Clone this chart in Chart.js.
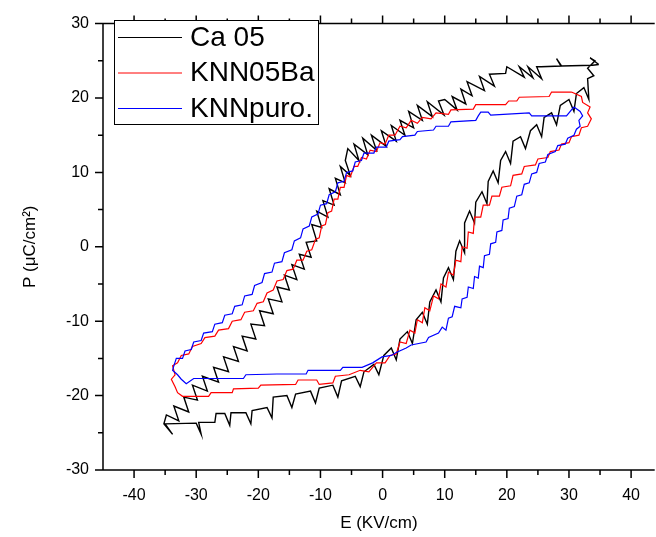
<!DOCTYPE html>
<html>
<head>
<meta charset="utf-8">
<script src="https://cdn.jsdelivr.net/npm/chart.js@4.4.0/dist/chart.umd.min.js"></script>
<style>
html, body { margin: 0; padding: 0; background: #fff; }
canvas { display: block; }
</style>
</head>
<body>
<canvas id="loopChart" width="656" height="537"></canvas>
<script>
// hysteresis loops, [E (kV/cm), P (uC/cm2)] pairs, noise included
const seriesNames = ["Ca 05", "KNN05Ba", "KNNpuro."];
const seriesColors = ["#000000", "#ff0000", "#0000ff"];

const caLoop = [
    [34.8, 24.5], [33.8, 24.4], [28.8, 24.3], [28.0, 25.3], [28.7, 24.3], [25.5, 24.2], [24.8, 24.2], [25.6, 22.6],
    [23.4, 24.2], [24.2, 22.7], [22.0, 24.2], [22.8, 22.8], [20.0, 24.2], [19.8, 23.3], [17.2, 23.2], [18.0, 21.6],
    [15.6, 22.9], [16.4, 21.0], [13.6, 22.2], [14.4, 20.3], [12.6, 21.2], [13.4, 19.2], [11.2, 20.2], [12.0, 18.4],
    [10.0, 19.8], [9.0, 19.6], [9.9, 17.7], [7.2, 19.5], [8.0, 17.5], [5.6, 19.0], [6.4, 17.0], [4.2, 18.2],
    [5.0, 16.0], [2.8, 17.0], [3.6, 15.0], [1.4, 16.3], [2.2, 14.2], [-0.2, 15.6], [0.6, 13.5], [-1.8, 15.0],
    [-1.0, 13.0], [-3.2, 14.6], [-2.4, 12.4], [-4.6, 13.8], [-3.8, 11.6], [-5.6, 13.2], [-6.0, 11.6], [-5.2, 9.6],
    [-6.8, 10.8], [-6.0, 8.6], [-7.6, 9.2], [-6.8, 7.0], [-8.6, 7.8], [-7.8, 5.6], [-9.6, 6.2], [-8.8, 4.0],
    [-10.6, 4.8], [-9.8, 2.6], [-11.4, 3.0], [-10.6, 0.8], [-12.3, 0.6], [-11.5, -1.4], [-13.4, -1.0], [-12.6, -3.0],
    [-14.6, -2.4], [-13.8, -4.4], [-15.8, -3.8], [-15.0, -5.8], [-17.0, -5.4], [-16.2, -7.4], [-18.4, -7.0], [-17.6, -9.0],
    [-19.8, -8.6], [-19.0, -10.6], [-21.2, -10.4], [-20.4, -12.4], [-22.6, -12.0], [-21.8, -14.0], [-24.0, -13.4], [-23.2, -15.4],
    [-25.6, -14.8], [-24.8, -16.8], [-27.2, -16.2], [-26.4, -18.2], [-29.0, -17.4], [-28.2, -19.4], [-30.6, -18.6], [-29.8, -20.6],
    [-32.0, -20.2], [-31.2, -22.2], [-33.6, -21.4], [-32.8, -23.4], [-34.8, -22.6], [-35.2, -23.8], [-33.8, -25.2], [-35.0, -23.8],
    [-30.0, -23.7], [-29.2, -25.2], [-29.6, -23.6], [-27.0, -23.6], [-26.8, -22.4], [-25.4, -22.4], [-24.6, -24.0], [-24.4, -22.3],
    [-22.0, -22.3], [-21.2, -23.8], [-21.0, -22.0], [-18.6, -21.6], [-17.8, -23.0], [-17.6, -20.2], [-15.4, -20.0], [-14.6, -21.6],
    [-14.0, -19.8], [-11.6, -19.4], [-10.8, -21.0], [-10.2, -19.0], [-8.0, -18.6], [-7.2, -20.2], [-6.6, -18.0], [-4.4, -17.4],
    [-3.6, -18.8], [-3.0, -16.8], [-1.4, -15.8], [-0.6, -17.2], [0.2, -14.6], [1.4, -13.6], [2.2, -15.2], [2.8, -12.4],
    [4.0, -11.4], [4.8, -13.0], [5.4, -9.8], [6.4, -8.8], [7.2, -10.4], [7.6, -7.4], [8.6, -5.8], [9.4, -7.4],
    [9.8, -4.2], [10.6, -2.8], [11.4, -4.4], [11.8, -0.6], [12.4, 0.8], [13.2, -0.8], [13.2, 3.2], [14.0, 4.8],
    [14.8, 3.2], [15.0, 6.0], [16.0, 7.4], [16.8, 5.8], [17.0, 8.8], [17.8, 10.2], [18.6, 8.6], [19.0, 11.6],
    [19.8, 12.8], [20.6, 11.2], [21.0, 14.2], [22.2, 14.8], [23.0, 13.2], [23.8, 15.6], [24.8, 16.4], [25.6, 14.8],
    [26.0, 17.4], [27.2, 18.0], [28.0, 16.4], [28.6, 19.0], [30.0, 19.8], [30.8, 18.2], [31.2, 20.6], [32.4, 21.4],
    [33.2, 19.8], [33.0, 22.6], [34.0, 23.0], [33.0, 24.0], [34.2, 25.0], [33.4, 25.4], [34.8, 24.5]
];

const baLoop = [
    [30.4, 20.8], [27.2, 20.8], [26.8, 20.2], [22.0, 20.1], [21.6, 19.6], [20.3, 19.6], [19.8, 19.1], [15.0, 19.1],
    [14.6, 18.5], [11.0, 18.4], [10.6, 17.8], [8.6, 18.0], [7.8, 17.2], [6.4, 17.4], [5.6, 16.6], [4.6, 17.0],
    [3.8, 16.0], [2.8, 16.2], [2.0, 15.0], [1.0, 15.0], [0.4, 13.8], [-0.4, 14.0], [-1.0, 12.8], [-2.0, 13.0],
    [-2.6, 11.8], [-3.4, 12.0], [-4.0, 10.8], [-4.6, 10.8], [-5.2, 9.4], [-5.8, 9.6], [-6.2, 8.0], [-6.8, 8.0],
    [-7.2, 6.4], [-7.8, 6.4], [-8.2, 4.8], [-8.8, 4.6], [-9.2, 3.0], [-9.8, 2.8], [-10.2, 1.2], [-10.8, 1.0],
    [-11.4, -0.4], [-12.2, -0.6], [-12.8, -1.8], [-13.8, -1.8], [-14.4, -3.0], [-15.4, -3.2], [-16.0, -4.4], [-17.0, -4.6],
    [-17.6, -5.8], [-18.6, -6.2], [-19.2, -7.4], [-20.2, -7.6], [-20.8, -8.6], [-22.2, -8.8], [-22.8, -9.8], [-24.2, -10.0],
    [-24.8, -11.0], [-26.4, -11.2], [-27.0, -12.0], [-28.6, -12.2], [-29.2, -13.0], [-30.6, -13.4], [-31.2, -14.4], [-32.4, -14.6],
    [-33.0, -15.6], [-33.8, -16.0], [-33.4, -17.2], [-34.0, -17.8], [-33.4, -18.8], [-33.0, -19.6], [-32.2, -20.1],
    [-28.0, -20.1], [-27.6, -19.6], [-24.2, -19.6], [-24.0, -19.1], [-20.0, -19.0], [-19.6, -18.6], [-14.0, -18.5], [-13.6, -17.9],
    [-10.6, -17.9], [-10.2, -18.5], [-8.0, -18.3], [-7.6, -17.4], [-5.4, -17.2], [-3.6, -16.6], [-2.2, -16.8], [-1.0, -15.6],
    [0.4, -15.6], [1.2, -14.6], [2.2, -14.4], [2.8, -12.8], [3.8, -13.0], [4.4, -11.2], [5.2, -11.6], [5.6, -9.8],
    [6.4, -10.2], [6.8, -8.2], [7.6, -8.6], [8.2, -6.6], [9.0, -7.0], [9.4, -5.0], [10.2, -5.4], [10.6, -3.4],
    [11.4, -3.8], [11.8, -1.8], [12.6, -2.0], [12.8, 0.0], [13.6, -0.2], [13.8, 2.0], [14.6, 1.8], [14.8, 4.0],
    [15.8, 4.0], [16.2, 5.6], [17.2, 5.6], [17.6, 6.8], [18.8, 6.8], [19.2, 8.0], [20.6, 8.2], [21.0, 9.6],
    [22.4, 9.8], [22.8, 10.8], [24.6, 11.0], [25.0, 11.8], [26.6, 12.0], [27.0, 12.8], [28.4, 13.0], [28.8, 13.8],
    [30.0, 14.0], [30.4, 14.8], [31.6, 15.0], [32.0, 16.0], [33.0, 16.2], [33.6, 17.2], [33.0, 18.0], [33.4, 18.8],
    [32.2, 19.4], [32.0, 20.2], [30.4, 20.8]
];

const puroLoop = [
    [30.8, 18.8], [29.6, 17.6], [24.0, 17.6], [23.6, 18.0], [17.4, 17.7], [17.0, 18.1], [15.8, 18.1], [15.4, 17.6],
    [15.0, 17.0], [11.0, 16.8], [10.6, 16.2], [8.6, 16.2], [8.2, 15.7], [5.6, 15.5], [5.2, 15.0], [3.2, 14.8],
    [2.8, 14.4], [1.0, 14.2], [0.6, 13.4], [-1.0, 13.4], [-1.4, 12.6], [-3.0, 12.6], [-3.4, 11.6], [-4.4, 11.4],
    [-4.8, 10.2], [-5.8, 10.0], [-6.2, 8.8], [-7.2, 8.6], [-7.6, 7.4], [-8.6, 7.0], [-9.0, 5.8], [-10.0, 5.6],
    [-10.4, 4.4], [-11.4, 4.0], [-11.8, 2.8], [-12.8, 2.4], [-13.2, 1.2], [-14.2, 0.8], [-14.6, -0.4], [-15.8, -0.8],
    [-16.2, -2.0], [-17.4, -2.2], [-17.8, -3.4], [-19.0, -3.6], [-19.4, -4.8], [-20.6, -5.2], [-21.0, -6.4], [-22.2, -6.6],
    [-22.6, -7.8], [-23.8, -8.0], [-24.2, -9.0], [-25.4, -9.2], [-25.8, -10.2], [-27.0, -10.4], [-27.4, -11.4], [-28.8, -11.6],
    [-29.2, -12.6], [-30.4, -12.8], [-30.8, -13.8], [-31.8, -14.0], [-32.2, -15.0], [-33.2, -15.0], [-33.6, -16.0], [-33.8, -16.6],
    [-33.0, -17.2], [-32.4, -17.8], [-31.6, -18.4],
    [-30.4, -17.7], [-22.4, -17.7], [-22.0, -17.2], [-17.0, -17.1], [-12.3, -17.1], [-12.0, -16.6], [-6.8, -16.6], [-6.4, -16.2],
    [-3.3, -16.2], [-1.6, -15.6], [-0.1, -14.8], [1.4, -14.6], [2.2, -14.2], [3.8, -13.6], [4.6, -13.2], [7.0, -12.8],
    [7.4, -12.2], [9.0, -11.6], [9.6, -10.8], [10.2, -11.2], [10.6, -9.6], [11.2, -9.4], [11.6, -8.0], [12.6, -8.2],
    [12.8, -7.0], [13.6, -6.8], [13.8, -5.4], [14.6, -5.6], [14.8, -4.0], [15.4, -4.2], [15.6, -2.6], [16.2, -2.8],
    [16.4, -1.2], [17.2, -1.0], [17.4, 0.4], [18.2, 0.6], [18.4, 2.0], [19.2, 2.2], [19.4, 3.6], [20.2, 3.8],
    [20.4, 5.2], [21.2, 5.4], [21.6, 6.8], [22.4, 7.0], [22.8, 8.4], [23.6, 8.6], [24.0, 9.8], [24.8, 10.0],
    [25.2, 11.2], [26.2, 11.4], [26.6, 12.4], [27.8, 12.8], [28.2, 13.6], [29.4, 13.8], [29.8, 14.6], [30.8, 15.0],
    [31.2, 15.8], [31.8, 16.2], [31.6, 17.0], [32.2, 17.6], [31.8, 18.2], [30.8, 18.8]
];

const xTicks = [-40, -30, -20, -10, 0, 10, 20, 30, 40];
const yTicks = [-30, -20, -10, 0, 10, 20, 30];

function toPoints(loop) {
    return loop.map(p => ({ x: p[0], y: p[1] }));
}

const FONT = "'Liberation Sans', Arial, sans-serif";

// axis frame with Origin-like outward ticks, plus the boxed legend
const framePlugin = {
    id: "frame",
    afterDraw(chart) {
        const ctx = chart.ctx;
        const a = chart.chartArea;
        const xs = chart.scales.x;
        const ys = chart.scales.y;
        ctx.save();
        ctx.strokeStyle = "#000";
        ctx.lineWidth = 1.5;
        ctx.beginPath();
        ctx.moveTo(a.left, a.top);
        ctx.lineTo(a.left, a.bottom);
        ctx.moveTo(a.left - 1, a.bottom);
        ctx.lineTo(a.right, a.bottom);
        ctx.moveTo(a.left - 1, a.top);
        ctx.lineTo(a.right, a.top);
        for (let v = -40; v <= 40; v += 5) {
            const px = xs.getPixelForValue(v);
            const len = v % 10 === 0 ? 8 : 5;
            ctx.moveTo(px, a.bottom);
            ctx.lineTo(px, a.bottom + len);
            ctx.moveTo(px, a.top);
            ctx.lineTo(px, a.top - len);
        }
        for (let v = -30; v <= 30; v += 5) {
            const py = ys.getPixelForValue(v);
            const len = v % 10 === 0 ? 8 : 5;
            ctx.moveTo(a.left, py);
            ctx.lineTo(a.left - len, py);
        }
        ctx.stroke();

        // legend
        const lx = 114, ly = 20, lw = 204, lh = 104;
        ctx.fillStyle = "#fff";
        ctx.fillRect(lx, ly, lw, lh);
        ctx.lineWidth = 1;
        ctx.strokeStyle = "#000";
        ctx.strokeRect(lx + 0.5, ly + 0.5, lw, lh);
        ctx.font = "28px " + FONT;
        ctx.textBaseline = "middle";
        ctx.fillStyle = "#000";
        seriesNames.forEach((name, i) => {
            const cy = 37 + i * 35.5;
            ctx.strokeStyle = seriesColors[i];
            ctx.lineWidth = 1;
            ctx.beginPath();
            ctx.moveTo(118, cy + 0.5);
            ctx.lineTo(182, cy + 0.5);
            ctx.stroke();
            ctx.fillText(name, 190, cy + 1);
        });
        ctx.restore();
    }
};

const datasets = [
    { label: seriesNames[0], data: toPoints(caLoop), order: 3, borderWidth: 1.4 },
    { label: seriesNames[1], data: toPoints(baLoop), order: 2, borderWidth: 1.2 },
    { label: seriesNames[2], data: toPoints(puroLoop), order: 1, borderWidth: 1.2 }
].map((d, i) => Object.assign(d, {
    showLine: true,
    borderColor: seriesColors[i],
    backgroundColor: seriesColors[i],
    pointRadius: 0,
    tension: 0,
    fill: false
}));

new Chart("loopChart", {
    type: "scatter",
    data: { datasets: datasets },
    options: {
        responsive: false,
        animation: false,
        devicePixelRatio: 1,
        layout: { padding: { top: 15, right: 0, bottom: 0, left: 0 } },
        plugins: {
            legend: { display: false },
            tooltip: { enabled: false }
        },
        scales: {
            x: {
                type: "linear",
                min: -45,
                max: 43.8,
                afterBuildTicks: s => { s.ticks = xTicks.map(v => ({ value: v })); },
                afterFit: s => { s.height = 67; },
                grid: { display: false, drawTicks: false },
                border: { display: false },
                ticks: { color: "#000", padding: 16, font: { family: FONT, size: 16 } },
                title: { display: true, text: "E (KV/cm)", color: "#000", padding: { top: 0, bottom: 3 }, font: { family: FONT, size: 17 } }
            },
            y: {
                type: "linear",
                min: -30,
                max: 30,
                afterBuildTicks: s => { s.ticks = yTicks.map(v => ({ value: v })); },
                afterFit: s => { s.width = 103; },
                grid: { display: false, drawTicks: false },
                border: { display: false },
                ticks: { color: "#000", padding: 14, font: { family: FONT, size: 16 } },
                title: { display: true, text: "P (\u03bcC/cm\u00b2)", color: "#000", padding: { top: 20, bottom: 0 }, font: { family: FONT, size: 17 } }
            }
        }
    },
    plugins: [framePlugin]
});
</script>
</body>
</html>
